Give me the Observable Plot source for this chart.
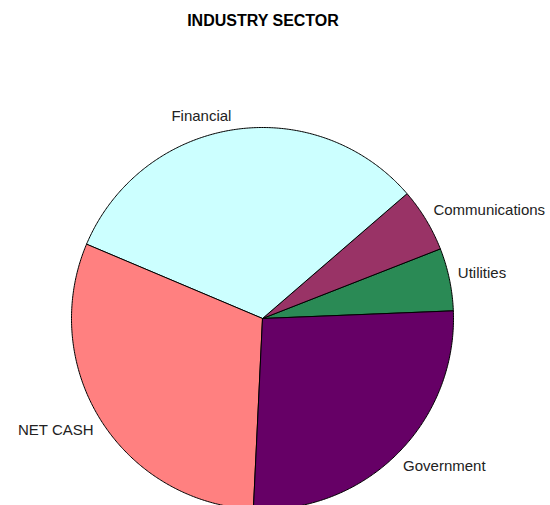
<!DOCTYPE html>
<html>
<head>
<meta charset="utf-8">
<script src="https://cdn.jsdelivr.net/npm/d3@7"></script>
<script src="https://cdn.jsdelivr.net/npm/@observablehq/plot@0.6"></script>
<style>
  html, body { margin: 0; padding: 0; background: #fff; }
  #title { width: 526px; height: 28px; padding-top: 12px; line-height: 18px; text-align: center;
           font: bold 16px Arial, "Liberation Sans", sans-serif; color: #000; }
  #chart svg { display: block; overflow: visible; }
</style>
</head>
<body>
<div id="title">INDUSTRY SECTOR</div>
<div id="chart"></div>
<script>
// ---- data ----
const sectors = ["Utilities", "Communications", "Financial", "NET CASH", "Government"];
const shares  = [5.3, 5.4, 32.3, 30.6, 26.4];
const colors  = ["#2A8A55", "#993366", "#CCFFFF", "#FF8080", "#660066"];

// ---- layout ----
const W = 550, H = 465;
const cx = 262, cy = 278, R = 191;   // pixel centre/radius of the pie inside the svg
const startDeg = 2.3;                // first slice starts just above 3 o'clock, counter-clockwise
const labelK = 1.045;

const total = d3.sum(shares);
const slices = [];
const labels = [];
let a0 = startDeg;
sectors.forEach((name, i) => {
  const sweep = shares[i] / total * 360;
  const a1 = a0 + sweep;
  const pts = [{name, x: 0, y: 0}];
  const n = Math.max(2, Math.ceil(sweep / 0.5));
  for (let k = 0; k <= n; k++) {
    const t = (a0 + sweep * k / n) * Math.PI / 180;
    pts.push({name, x: Math.cos(t), y: Math.sin(t)});
  }
  pts.push({name, x: 0, y: 0});
  slices.push(...pts);
  const m = (a0 + a1) / 2 * Math.PI / 180;
  labels.push({name, x: labelK * Math.cos(m), y: labelK * Math.sin(m),
               right: Math.cos(m) >= 0, upper: Math.sin(m) >= 0});
  a0 = a1;
});

const labelMarks = [];
for (const right of [true, false]) {
  for (const upper of [true, false]) {
    labelMarks.push(Plot.text(labels.filter(d => d.right === right && d.upper === upper), {
      x: "x", y: "y", text: "name",
      textAnchor: right ? "start" : "end",
      lineAnchor: upper ? "bottom" : "top",
      fontSize: 15, fill: "#222"
    }));
  }
}

const chart = Plot.plot({
  width: W, height: H,
  margin: 0,
  x: {domain: [-cx / R, (W - cx) / R], range: [0, W], axis: null},
  y: {domain: [(cy - H) / R, cy / R], range: [H, 0], axis: null},
  color: {domain: sectors, range: colors},
  style: {fontFamily: "Arial, 'Liberation Sans', sans-serif", background: "#fff"},
  marks: [
    Plot.line(slices, {x: "x", y: "y", z: "name", fill: "name", stroke: "#000", strokeWidth: 1, strokeLinejoin: "round"}),
    ...labelMarks
  ]
});
document.getElementById("chart").appendChild(chart);
</script>
</body>
</html>
